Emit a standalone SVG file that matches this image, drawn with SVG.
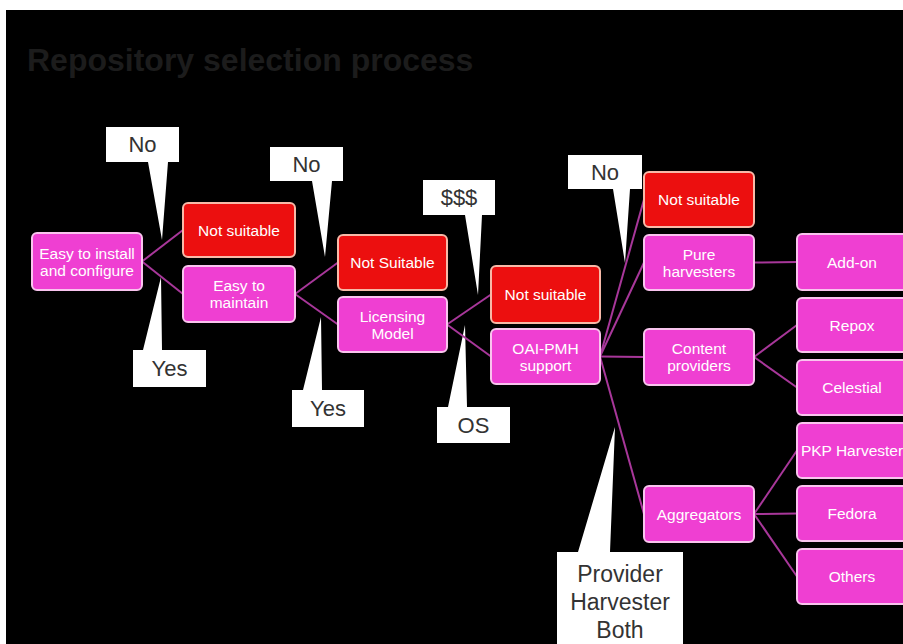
<svg xmlns="http://www.w3.org/2000/svg" width="903" height="644" viewBox="0 0 903 644">
<defs>
<style>
.pink{fill:#ef3fd2;stroke:#f9c4ee;stroke-width:2}
.red{fill:#ec0f0f;stroke:#f7b9a8;stroke-width:2}
.nt{font-family:"Liberation Sans",Arial,sans-serif;font-size:15.5px;fill:#ffffff;text-anchor:middle}
.co{fill:#ffffff;stroke:none}
.ct{font-family:"Liberation Sans",Arial,sans-serif;font-size:22px;fill:#333333;text-anchor:middle}
.ln{stroke:#a8379a;stroke-width:2;fill:none}
</style>
</defs>
<rect x="0" y="0" width="903" height="644" fill="#ffffff"/>
<rect x="6" y="10" width="897" height="634" fill="#000000"/>
<text x="27" y="71" font-family="Liberation Sans,Arial,sans-serif" font-weight="bold" font-size="32" fill="#1c1c1c">Repository selection process</text>

<g id="callouts">
<g id="c1"><path class="co" d="M106,127 H179 V162 H168 L162,240 L148,162 H106 Z"/><text class="ct" x="142.5" y="152">No</text></g>
<g id="c2"><path class="co" d="M133,350 H143 L161,277 L162,350 H206 V387 H133 Z"/><text class="ct" x="169.5" y="376">Yes</text></g>
<g id="c3"><path class="co" d="M270,147 H343 V181 H332 L325,257 L312,181 H270 Z"/><text class="ct" x="306.5" y="172">No</text></g>
<g id="c4"><path class="co" d="M292,390 H303 L321,317 L322,390 H364 V427 H292 Z"/><text class="ct" x="328" y="416">Yes</text></g>
<g id="c5"><path class="co" d="M423,180 H495 V215 H482 L478,295 L465,215 H423 Z"/><text class="ct" x="459" y="205">$$$</text></g>
<g id="c6"><path class="co" d="M437,407 H448 L465,325 L467,407 H510 V443 H437 Z"/><text class="ct" x="473.5" y="433">OS</text></g>
<g id="c7"><path class="co" d="M568,155 H642 V189 H630 L625,263 L613,189 H568 Z"/><text class="ct" x="605" y="180">No</text></g>
<g id="c8"><path class="co" d="M557,552 H578 L615,427 L610,552 H683 V650 H557 Z"/>
<text class="ct" font-size="23" x="620" y="582" style="font-size:23px">Provider</text>
<text class="ct" x="620" y="610" style="font-size:23px">Harvester</text>
<text class="ct" x="620" y="638" style="font-size:23px">Both</text></g>
</g>

<g id="connectors">
<line class="ln" x1="142" y1="261.5" x2="183" y2="230"/>
<line class="ln" x1="142" y1="261.5" x2="183" y2="294"/>
<line class="ln" x1="295" y1="294" x2="338" y2="262.5"/>
<line class="ln" x1="295" y1="294" x2="338" y2="324.5"/>
<line class="ln" x1="447" y1="324.5" x2="491" y2="294.5"/>
<line class="ln" x1="447" y1="324.5" x2="491" y2="356.5"/>
<line class="ln" x1="600" y1="356.5" x2="644" y2="199.5"/>
<line class="ln" x1="600" y1="356.5" x2="644" y2="262.5"/>
<line class="ln" x1="600" y1="356.5" x2="644" y2="357"/>
<line class="ln" x1="600" y1="356.5" x2="644" y2="514"/>
<line class="ln" x1="754" y1="262.5" x2="797" y2="262"/>
<line class="ln" x1="754" y1="357" x2="797" y2="325"/>
<line class="ln" x1="754" y1="357" x2="797" y2="387.5"/>
<line class="ln" x1="754" y1="514" x2="797" y2="450.5"/>
<line class="ln" x1="754" y1="514" x2="797" y2="513.5"/>
<line class="ln" x1="754" y1="514" x2="797" y2="576.5"/>
</g>

<g id="n1"><rect class="pink" x="32" y="233" width="110" height="57" rx="5"/><text class="nt" x="87" y="258.5">Easy to install</text><text class="nt" x="87" y="275.5">and configure</text></g>
<g id="n2"><rect class="red" x="183" y="203" width="112" height="54" rx="5"/><text class="nt" x="239" y="235.5">Not suitable</text></g>
<g id="n3"><rect class="pink" x="183" y="266" width="112" height="56" rx="5"/><text class="nt" x="239" y="291">Easy to</text><text class="nt" x="239" y="308">maintain</text></g>
<g id="n4"><rect class="red" x="338" y="235" width="109" height="55" rx="5"/><text class="nt" x="392.5" y="268">Not Suitable</text></g>
<g id="n5"><rect class="pink" x="338" y="297" width="109" height="55" rx="5"/><text class="nt" x="392.5" y="321.5">Licensing</text><text class="nt" x="392.5" y="338.5">Model</text></g>
<g id="n6"><rect class="red" x="491" y="266" width="109" height="57" rx="5"/><text class="nt" x="545.5" y="300">Not suitable</text></g>
<g id="n7"><rect class="pink" x="491" y="329" width="109" height="55" rx="5"/><text class="nt" x="545.5" y="353.5">OAI-PMH</text><text class="nt" x="545.5" y="370.5">support</text></g>
<g id="n8"><rect class="red" x="644" y="172" width="110" height="55" rx="5"/><text class="nt" x="699" y="205">Not suitable</text></g>
<g id="n9"><rect class="pink" x="644" y="235" width="110" height="55" rx="5"/><text class="nt" x="699" y="259.5">Pure</text><text class="nt" x="699" y="276.5">harvesters</text></g>
<g id="n10"><rect class="pink" x="644" y="329" width="110" height="56" rx="5"/><text class="nt" x="699" y="354">Content</text><text class="nt" x="699" y="371">providers</text></g>
<g id="n11"><rect class="pink" x="644" y="486" width="110" height="56" rx="5"/><text class="nt" x="699" y="519.5">Aggregators</text></g>
<g id="n12"><rect class="pink" x="797" y="234" width="110" height="56" rx="5"/><text class="nt" x="852" y="267.5">Add-on</text></g>
<g id="n13"><rect class="pink" x="797" y="298" width="110" height="54" rx="5"/><text class="nt" x="852" y="330.5">Repox</text></g>
<g id="n14"><rect class="pink" x="797" y="360" width="110" height="55" rx="5"/><text class="nt" x="852" y="393">Celestial</text></g>
<g id="n15"><rect class="pink" x="797" y="423" width="110" height="55" rx="5"/><text class="nt" x="852" y="456">PKP Harvester</text></g>
<g id="n16"><rect class="pink" x="797" y="486" width="110" height="55" rx="5"/><text class="nt" x="852" y="519">Fedora</text></g>
<g id="n17"><rect class="pink" x="797" y="549" width="110" height="55" rx="5"/><text class="nt" x="852" y="582">Others</text></g>
</svg>
